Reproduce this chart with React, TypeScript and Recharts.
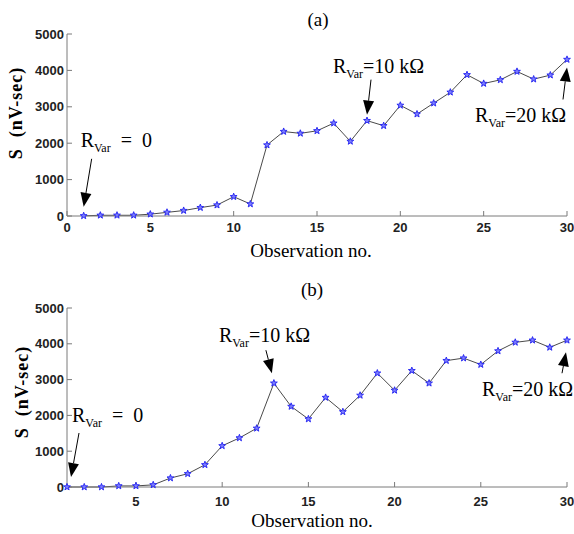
import React from "react";
import { Line, LineChart, ReferenceDot, XAxis, YAxis } from "recharts";

// observation numbers and S values (nV-sec)
const OBS = [1, 2, 3, 4, 5, 6, 7, 8, 9, 10, 11, 12, 13, 14, 15, 16, 17, 18, 19, 20, 21, 22, 23, 24, 25, 26, 27, 28, 29, 30];
const S_A = [5, 20, 20, 20, 50, 100, 150, 230, 300, 530, 330, 1950, 2320, 2270, 2340, 2550, 2050, 2620, 2480, 3040, 2800, 3100, 3400, 3880, 3640, 3740, 3970, 3760, 3870, 4300];
const S_B = [0, 0, 0, 30, 30, 60, 250, 370, 620, 1150, 1370, 1640, 2900, 2250, 1900, 2500, 2100, 2560, 3180, 2700, 3250, 2900, 3530, 3600, 3420, 3800, 4040, 4100, 3900, 4100];

const X_TICKS_A = [0, 5, 10, 15, 20, 25, 30];
const X_TICKS_B = [5, 10, 15, 20, 25, 30];
const Y_TICKS = [0, 1000, 2000, 3000, 4000, 5000];

const dataA = OBS.map((o, i) => ({ obs: o, s: S_A[i] }));
const dataB = OBS.map((o, i) => ({ obs: o, s: S_B[i] }));

const BOX = "#7a7a7a";
const TICK = { fontSize: 13, fill: "#222", fontFamily: "Liberation Sans", fontWeight: 700 };
const SERIF = "Liberation Serif";
const NB = "\u00a0";

function Star({ cx, cy }: any) {
  if (cx == null || cy == null) return null;
  const pts: string[] = [];
  for (let k = 0; k < 10; k++) {
    const r = k % 2 === 0 ? 3.6 : 1.5;
    const a = -Math.PI / 2 + (k * Math.PI) / 5;
    pts.push(`${(cx + r * Math.cos(a)).toFixed(2)},${(cy + r * Math.sin(a)).toFixed(2)}`);
  }
  return <polygon points={pts.join(" ")} fill="#7c7cff" stroke="#2020f0" strokeWidth={0.9} />;
}

// arrow + R_Var label, placed relative to the data point it points at
function Note({ cx, cy, tip, tail, at, rest }: any) {
  const tx = cx + tip[0], ty = cy + tip[1];
  const sx = cx + tail[0], sy = cy + tail[1];
  const len = Math.hypot(tx - sx, ty - sy);
  const ux = (tx - sx) / len, uy = (ty - sy) / len;
  const hl = 14, hw = 5.5;
  const bx = tx - ux * hl, by = ty - uy * hl;
  const head = `${tx},${ty} ${bx - uy * hw},${by + ux * hw} ${bx + uy * hw},${by - ux * hw}`;
  return (
    <g>
      <line x1={sx} y1={sy} x2={bx} y2={by} stroke="#000" strokeWidth={1} />
      <polygon points={head} fill="#000" />
      <text x={cx + at[0]} y={cy + at[1]} fontFamily={SERIF} fontSize={20} fill="#000">
        R<tspan fontSize={12} dy={5}>Var</tspan>
        <tspan fontSize={20} dy={-5}>{rest}</tspan>
      </text>
    </g>
  );
}

function Panel({ data, xDomain, xTicks, top, bottom, tickGap, children }: any) {
  return (
    <LineChart width={574} height={267} data={data} margin={{ top, right: 7, left: 0, bottom: 0 }}>
      <XAxis
        xAxisId="b"
        dataKey="obs"
        type="number"
        domain={xDomain}
        ticks={xTicks}
        height={bottom}
        stroke={BOX}
        tickSize={-5}
        tickMargin={tickGap}
        tick={TICK}
        interval={0}
      />
      <XAxis xAxisId="t" orientation="top" dataKey="obs" type="number" domain={xDomain} ticks={xTicks} height={0} stroke={BOX} tickSize={-5} tickFormatter={() => ""} />
      <YAxis yAxisId="l" domain={[0, 5000]} ticks={Y_TICKS} width={67} stroke={BOX} tickSize={-5} tickMargin={8} tick={TICK} interval={0} />
      <YAxis yAxisId="r" orientation="right" domain={[0, 5000]} ticks={Y_TICKS} width={0} stroke={BOX} tickSize={-5} tickFormatter={() => ""} />
      <Line
        xAxisId="b"
        yAxisId="l"
        dataKey="s"
        stroke="#4a4a4a"
        strokeWidth={1}
        dot={(p: any) => <Star key={p.index} cx={p.cx} cy={p.cy} />}
        isAnimationActive={false}
      />
      {children}
    </LineChart>
  );
}

export default function App() {
  const zero = `${NB}${NB}=${NB}${NB}0`;
  return (
    <div style={{ position: "absolute", left: 0, top: 0, width: 574, height: 534, background: "#fff" }}>
      <div style={{ position: "absolute", left: 0, top: 0 }}>
        <Panel data={dataA} xDomain={[0, 30]} xTicks={X_TICKS_A} top={34} bottom={51} tickGap={12}>
          <ReferenceDot xAxisId="b" yAxisId="l" x={1} y={S_A[0]} r={0}
            shape={(p: any) => <Note cx={p.cx} cy={p.cy} tip={[0, -9]} tail={[8, -57]} at={[-3, -69]} rest={zero} />} />
          <ReferenceDot xAxisId="b" yAxisId="l" x={18} y={S_A[17]} r={0}
            shape={(p: any) => <Note cx={p.cx} cy={p.cy} tip={[0, -6]} tail={[4, -41]} at={[-34, -48]} rest={"=10 kΩ"} />} />
          <ReferenceDot xAxisId="b" yAxisId="l" x={30} y={S_A[29]} r={0}
            shape={(p: any) => <Note cx={p.cx} cy={p.cy} tip={[0, 8]} tail={[-4, 40]} at={[-92, 63]} rest={"=20 kΩ"} />} />
        </Panel>
      </div>
      <div style={{ position: "absolute", left: 0, top: 267 }}>
        <Panel data={dataB} xDomain={[1, 30]} xTicks={X_TICKS_B} top={41} bottom={47} tickGap={15}>
          <ReferenceDot xAxisId="b" yAxisId="l" x={1} y={S_B[0]} r={0}
            shape={(p: any) => <Note cx={p.cx} cy={p.cy} tip={[4, -10]} tail={[12, -54]} at={[5, -65]} rest={zero} />} />
          <ReferenceDot xAxisId="b" yAxisId="l" x={13} y={S_B[12]} r={0}
            shape={(p: any) => <Note cx={p.cx} cy={p.cy} tip={[-2, -10]} tail={[-8, -33]} at={[-55, -41]} rest={"=10 kΩ"} />} />
          <ReferenceDot xAxisId="b" yAxisId="l" x={30} y={S_B[29]} r={0}
            shape={(p: any) => <Note cx={p.cx} cy={p.cy} tip={[-1, 12]} tail={[-5, 33]} at={[-85, 56]} rest={"=20 kΩ"} />} />
        </Panel>
      </div>
      <svg width={574} height={534} style={{ position: "absolute", left: 0, top: 0, pointerEvents: "none" }}>
        <text x={318} y={26} textAnchor="middle" fontFamily={SERIF} fontSize={19}>(a)</text>
        <text x={312} y={296} textAnchor="middle" fontFamily={SERIF} fontSize={19}>(b)</text>
        <text x={311} y={257} textAnchor="middle" fontFamily={SERIF} fontSize={19}>Observation no.</text>
        <text x={312} y={527} textAnchor="middle" fontFamily={SERIF} fontSize={19}>Observation no.</text>
        <text x={16} y={113} transform="rotate(-90 16 113)" textAnchor="middle" dominantBaseline="central" fontFamily={SERIF} fontWeight={700} fontSize={18} letterSpacing={1}>{`S${NB}${NB}(nV-sec)`}</text>
        <text x={22} y={392} transform="rotate(-90 22 392)" textAnchor="middle" dominantBaseline="central" fontFamily={SERIF} fontWeight={700} fontSize={18} letterSpacing={1}>{`S${NB}${NB}(nV-sec)`}</text>
      </svg>
    </div>
  );
}
